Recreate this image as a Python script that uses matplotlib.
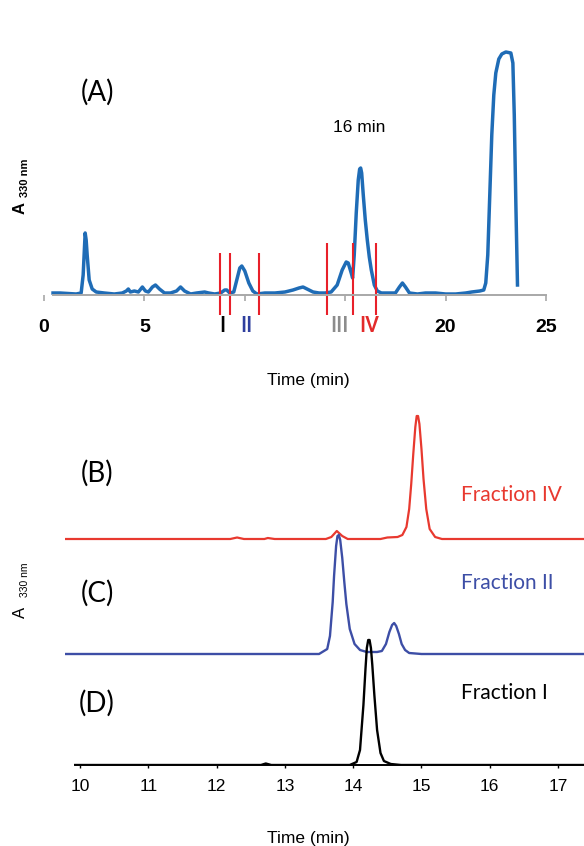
import numpy as np
import matplotlib
matplotlib.use("Agg")
import matplotlib.pyplot as plt

# ---- panel A: full chromatogram (time in min, absorbance in arbitrary units) ----
t_a = [0.45, 0.8, 1.2, 1.6, 1.85, 1.95, 2.05, 2.1, 2.15, 2.25, 2.4, 2.6, 3.0, 3.5,
       3.9, 4.1, 4.2, 4.3, 4.5, 4.7, 4.9, 5.05, 5.2, 5.4, 5.55, 5.75, 6.0, 6.3,
       6.6, 6.8, 7.0, 7.3, 7.6, 8.0, 8.2, 8.5, 8.8, 9.0, 9.1, 9.25, 9.45, 9.6,
       9.75, 9.85, 10.0, 10.2, 10.4, 10.6, 11.0, 11.5, 12.0, 12.4, 12.7, 12.9,
       13.1, 13.4, 13.7, 14.0, 14.3, 14.6, 14.85, 15.05, 15.15, 15.3, 15.37,
       15.45, 15.55, 15.65, 15.72, 15.77, 15.82, 15.9, 16.0, 16.1, 16.2, 16.3,
       16.45, 16.6, 16.8, 17.2, 17.5, 17.7, 17.85, 18.0, 18.2, 18.6, 19.0, 19.5,
       20.0, 20.5, 21.0, 21.3, 21.7, 21.9, 22.0, 22.1, 22.2, 22.3, 22.4, 22.5,
       22.65, 22.8, 23.0, 23.25, 23.35, 23.42, 23.5, 23.58]
a_a = [2, 2, 1.5, 1, 2, 20, 62, 55, 40, 15, 6, 3, 2, 1,
       2, 4, 6, 3, 4, 3, 8, 4, 3, 8, 10, 6, 2, 2,
       4, 8, 4, 1, 2, 3, 2, 1, 2, 5, 5, 2, 3, 15,
       27, 29, 24, 12, 4, 1, 2, 2, 3, 5, 7, 8,
       6, 3, 2, 2, 3, 10, 25, 33, 32, 22, 17,
       40, 82, 115, 126, 127, 122, 100, 75, 55, 38, 25,
       10, 4, 2, 2, 2, 8, 12, 8, 2, 1, 2, 2,
       1, 1, 2, 3, 4, 5, 12, 40, 100, 160, 200, 222,
       236, 241, 243, 242, 232, 180, 90, 10]

cut_1 = [8.76, 9.25, 10.69]
cut_2 = [14.08, 15.37, 16.52]
frac_names = ["I", "II", "III", "IV"]
frac_pos = [8.86, 10.1, 14.73, 16.22]
frac_cols = ["black", "#2f3f9e", "#8c8c8c", "#e32a2a"]

ticks_a = [0, 5, 10, 15, 20, 25]
ticklab_a = ["0", "5", "", "", "20", "25"]

# ---- panels B-D: fractions re-injected ----
t_iv = [9.78, 12.2, 12.3, 12.4, 12.7, 12.75, 12.85, 13.6, 13.68, 13.76, 13.84,
        13.92, 14.4, 14.5, 14.65, 14.72, 14.78, 14.82, 14.85, 14.88, 14.91, 14.93,
        14.95, 14.97, 15.0, 15.03, 15.07, 15.12, 15.2, 15.3, 17.38]
a_iv = [0, 0, 1.5, 0, 0, 1, 0, 0, 2, 8, 3,
        0, 0, 1.5, 2, 4, 12, 30, 55, 85, 112, 123,
        123, 115, 90, 60, 30, 10, 2, 0, 0]

t_ii = [9.78, 13.5, 13.62, 13.66, 13.70, 13.72, 13.75, 13.77, 13.79, 13.81, 13.84,
        13.87, 13.9, 13.95, 14.02, 14.1, 14.2, 14.35, 14.42, 14.48, 14.53, 14.57,
        14.6, 14.63, 14.67, 14.71, 14.76, 14.82, 15.0, 17.38]
a_ii = [0, 0, 5, 18, 52, 78, 108, 118, 119, 114, 96,
        72, 50, 25, 10, 4, 2, 2, 3, 10, 22, 29,
        31, 28, 20, 10, 4, 1, 0, 0]

t_i = [9.93, 12.65, 12.72, 12.8, 13.95, 14.05, 14.1, 14.15, 14.18, 14.2, 14.22,
       14.24, 14.26, 14.28, 14.31, 14.35, 14.4, 14.45, 14.55, 14.7, 17.38]
a_i = [0, 0, 1.5, 0, 0, 3, 15, 60, 96, 117, 125,
       125, 117, 100, 70, 35, 12, 4, 1, 0, 0]

ticks_b = [10, 11, 12, 13, 14, 15, 16, 17]

W, H = 584, 846


def fx(x):
    return x / W


def fy(y):
    return 1 - y / H


fig = plt.figure(figsize=(5.84, 8.46), dpi=100)

# panel A
axA = fig.add_axes([fx(44), fy(320), fx(546) - fx(44), fy(40) - fy(320)])
axA.plot(t_a, a_a, color="#1f6cb6", lw=2.5, solid_joinstyle="round")
axA.vlines(cut_1, -20, 42, color="#e8202a", lw=1.5)
axA.vlines(cut_2, -20, 52, color="#e8202a", lw=1.5)
for name, x, c in zip(frac_names, frac_pos, frac_cols):
    axA.text(x, -32, name, color=c, ha="center", va="center", fontsize=15.5,
             family="Roboto", fontweight="medium")
axA.text(15.72, 168, "16 min", ha="center", va="center", fontsize=12.5,
         family="Liberation Sans")
axA.text(2.64, 203, "(A)", ha="center", va="center", fontsize=20, family="Lato")
axA.set_xlim(0, 25)
axA.set_ylim(-25, 255)
for s in ["top", "right", "left"]:
    axA.spines[s].set_visible(False)
axA.spines["bottom"].set_position(("data", 0))
axA.spines["bottom"].set_color("#a8a8a8")
axA.spines["bottom"].set_linewidth(1.4)
axA.spines["bottom"].set_bounds(0.45, 25)
axA.set_yticks([])
axA.set_xticks(ticks_a)
axA.set_xticklabels(ticklab_a, fontsize=14, family="Liberation Sans", fontweight="bold")
axA.tick_params(axis="x", direction="out", length=4, width=1.2, color="#a8a8a8", pad=13)
axA.patch.set_alpha(0)

fig.text(fx(20), fy(208), "A", rotation=90, ha="center", va="center", fontsize=12,
         family="Liberation Sans", fontweight="bold")
fig.text(fx(25), fy(178), "330 nm", rotation=90, ha="center", va="center", fontsize=8,
         family="Liberation Sans", fontweight="bold")
fig.text(fx(308), fy(380), "Time (min)", ha="center", va="center", fontsize=12.5,
         family="Liberation Sans")

# panels B-D
axB = fig.add_axes([fx(65), fy(765), 1 - fx(65), fy(400) - fy(765)])
off_iv = 765 - 539
off_ii = 765 - 654
axB.plot(t_iv, np.array(a_iv) + off_iv, color="#e8392f", lw=1.6)
axB.plot(t_ii, np.array(a_ii) + off_ii, color="#3d4ea6", lw=1.7)
axB.plot(t_i, a_i, color="black", lw=1.7)
axB.set_xlim(9.78, 17.38)
axB.set_ylim(0, 365)
for s in ["top", "right", "left"]:
    axB.spines[s].set_visible(False)
axB.spines["bottom"].set_bounds(9.93, 17.38)
axB.spines["bottom"].set_linewidth(1.4)
axB.set_yticks([])
axB.set_xticks(ticks_b)
axB.set_xticklabels([str(v) for v in ticks_b], fontsize=12.5, family="Liberation Sans")
axB.tick_params(axis="x", direction="out", length=2, width=1, pad=8)
axB.patch.set_alpha(0)

for lab, y in zip(["(B)", "(C)", "(D)"], [473, 593, 703]):
    fig.text(fx(97), fy(y), lab, ha="center", va="center", fontsize=20, family="Lato")
for lab, y, c in zip(["Fraction IV", "Fraction II", "Fraction I"], [495, 583, 693],
                     ["#e8392f", "#3d4ea6", "black"]):
    fig.text(fx(461), fy(y), lab, ha="left", va="center", fontsize=15, family="Lato",
             color=c)

fig.text(fx(20), fy(612), "A", rotation=90, ha="center", va="center", fontsize=12,
         family="Liberation Sans")
fig.text(fx(25), fy(580), "330 nm", rotation=90, ha="center", va="center", fontsize=7.5,
         family="Liberation Sans")
fig.text(fx(308), fy(838), "Time (min)", ha="center", va="center", fontsize=12.5,
         family="Liberation Sans")

fig.savefig("out.png", dpi=100)
